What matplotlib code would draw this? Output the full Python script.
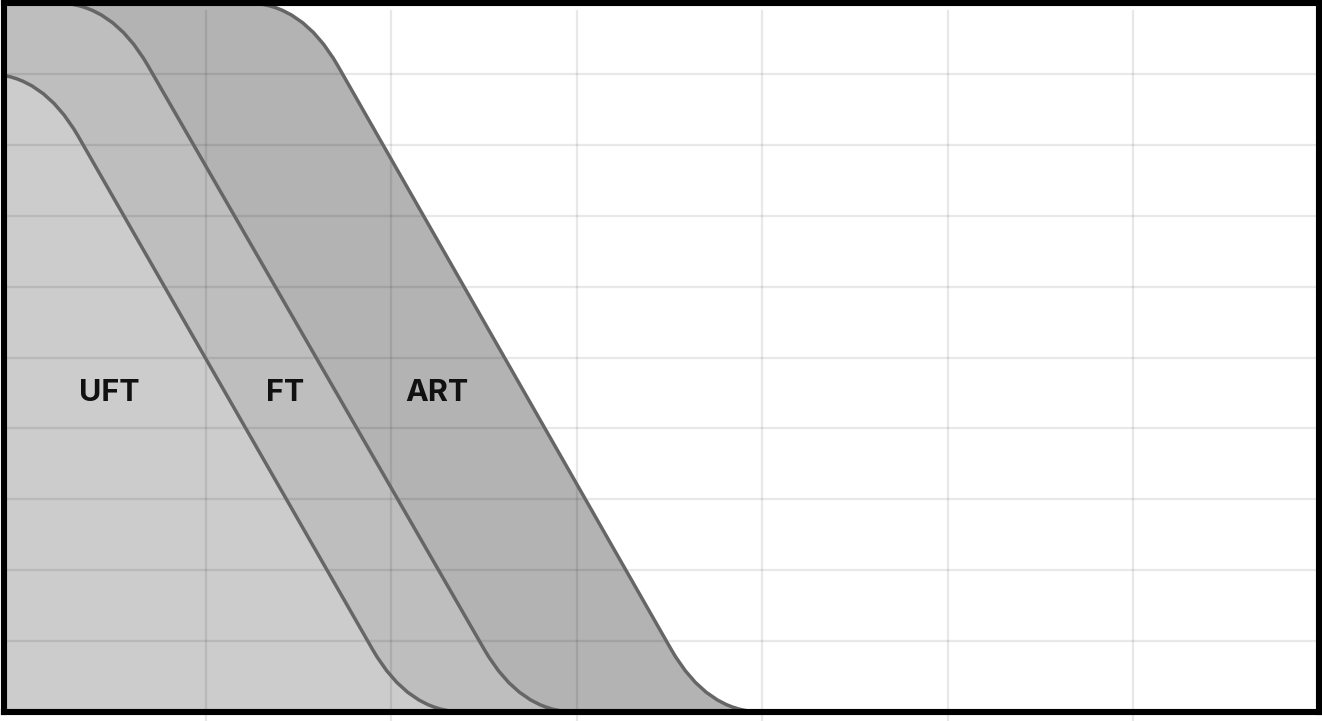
import matplotlib
matplotlib.use("Agg")
import matplotlib.pyplot as plt
from matplotlib.path import Path
from matplotlib.patches import PathPatch

# ---- data (grid units: x = columns, y = rows) ----
series = ["UFT", "FT", "ART"]
top_level = [9.0, 10.0, 10.0]          # plateau height at the left
shoulder_x = [0.121, 0.495, 1.52]      # where the descent starts
foot_x = [2.094, 2.697, 3.703]         # where the descent reaches 0
fill_colors = ["#cccccc", "#bebebe", "#b3b3b3"]
label_x = [0.48, 1.43, 2.25]
label_y = [4.5, 4.5, 4.5]

x_grid = [1, 2, 3, 4, 5, 6]
y_grid = [1, 2, 3, 4, 5, 6, 7, 8, 9]
xlim = (-0.089, 7.0)
ylim = (0.0, 10.0)

W, H = 1322, 721
fig = plt.figure(figsize=(W / 100, H / 100), dpi=100)
ax_left, ax_bottom = 3.5 / W, 9 / H
ax_w, ax_h = 1315 / W, 709 / H
ax = fig.add_axes([ax_left, ax_bottom, ax_w, ax_h])
ax.set_xlim(*xlim)
ax.set_ylim(*ylim)

px_u = ax_w * W / (xlim[1] - xlim[0])
px_v = ax_h * H / (ylim[1] - ylim[0])

R_FLAT = 55.0   # px tangent length on horizontal segments
R_SLOPE = 72.0  # px tangent length on sloped segments


def seg_len_px(a, b):
    return (((b[0] - a[0]) * px_u) ** 2 + ((b[1] - a[1]) * px_v) ** 2) ** 0.5


def rounded(points):
    verts = [points[0]]
    codes = [Path.MOVETO]
    for i in range(1, len(points) - 1):
        a, p, b = points[i - 1], points[i], points[i + 1]
        r_in = R_FLAT if abs(a[1] - p[1]) < 1e-9 else R_SLOPE
        r_out = R_FLAT if abs(b[1] - p[1]) < 1e-9 else R_SLOPE
        la, lb = seg_len_px(a, p), seg_len_px(p, b)
        s = (p[0] + (a[0] - p[0]) * r_in / la, p[1] + (a[1] - p[1]) * r_in / la)
        e = (p[0] + (b[0] - p[0]) * r_out / lb, p[1] + (b[1] - p[1]) * r_out / lb)
        verts += [s, p, e]
        codes += [Path.LINETO, Path.CURVE3, Path.CURVE3]
    verts.append(points[-1])
    codes.append(Path.LINETO)
    return verts, codes


# draw from back (ART) to front (UFT)
for i in reversed(range(len(series))):
    pts = [(xlim[0] - 0.3, top_level[i]),
           (shoulder_x[i], top_level[i]),
           (foot_x[i], 0.0),
           (foot_x[i] + 1.5, 0.0)]
    verts, codes = rounded(pts)
    fverts = verts + [(xlim[0] - 0.3, 0.0), (0, 0)]
    fcodes = codes + [Path.LINETO, Path.CLOSEPOLY]
    ax.add_patch(PathPatch(Path(fverts, fcodes), facecolor=fill_colors[i],
                           edgecolor="none", zorder=1 + (2 - i) * 0.01))
    ax.add_patch(PathPatch(Path(verts, codes), facecolor="none",
                           edgecolor="#666666", linewidth=2.5,
                           zorder=2.2, capstyle="round", joinstyle="round"))

# grid on top of fills, translucent
for gx in x_grid:
    ax.plot([gx, gx], [-0.2, 9.9], color="black", alpha=0.09, linewidth=1.6,
            zorder=2.0, clip_on=False, solid_capstyle="butt")
for gy in y_grid:
    ax.plot([xlim[0], xlim[1]], [gy, gy], color="black", alpha=0.09,
            linewidth=1.6, zorder=2.0)

for name, lx, ly in zip(series, label_x, label_y):
    ax.text(lx, ly, name, ha="center", va="center", fontsize=22,
            fontweight="bold", family=["Inter", "DejaVu Sans"],
            color="#111111", zorder=3)

ax.set_xticks([])
ax.set_yticks([])
for sp in ax.spines.values():
    sp.set_linewidth(4.4)
    sp.set_color("black")
    sp.set_zorder(4)

fig.savefig("out.png", dpi=100, facecolor="white")
